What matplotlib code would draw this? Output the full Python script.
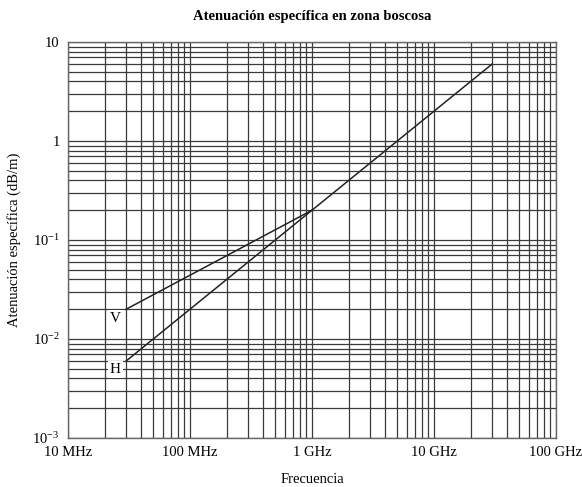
import matplotlib
matplotlib.use("Agg")
import matplotlib.pyplot as plt
from matplotlib.ticker import FixedLocator, LogLocator, NullFormatter

plt.rcParams['font.family'] = ['Liberation Serif', 'DejaVu Serif']
plt.rcParams['mathtext.fontset'] = 'custom'
plt.rcParams['mathtext.rm'] = 'Liberation Serif'
plt.rcParams['mathtext.it'] = 'Liberation Serif:italic'

# Data (frequency in Hz, attenuation in dB/m)
freq_v = [3e7, 1e9]
att_v = [0.02, 0.2]
freq_h = [3e7, 1e9]
att_h = [0.006, 0.2]
freq_common = [1e9, 3e10]
att_common = [0.2, 6.0]

x_ticks = [1e7, 1e8, 1e9, 1e10, 1e11]
x_labels = ["10 MHz", "100 MHz", "1 GHz", "10 GHz", "100 GHz"]
y_ticks = [1e-3, 1e-2, 1e-1, 1, 10]
y_labels = [r"$10^{-3}$", r"$10^{-2}$", r"$10^{-1}$", "1", "10"]

fig = plt.figure(figsize=(5.82, 4.87), dpi=100)
ax = fig.add_axes([68/582, 49/487, (556-68)/582, (438-42)/487])
ax.set_xscale('log')
ax.set_yscale('log')
ax.set_xlim(1e7, 1e11)
ax.set_ylim(1e-3, 10)

ax.xaxis.set_major_locator(FixedLocator(x_ticks))
ax.xaxis.set_minor_locator(LogLocator(base=10, subs=range(2, 10), numticks=50))
ax.yaxis.set_major_locator(FixedLocator(y_ticks))
ax.yaxis.set_minor_locator(LogLocator(base=10, subs=range(2, 10), numticks=50))
ax.set_xticklabels(x_labels)
ax.set_yticklabels(y_labels)
ax.xaxis.set_minor_formatter(NullFormatter())
ax.yaxis.set_minor_formatter(NullFormatter())
ax.tick_params(which='both', length=0, labelsize=10.5, pad=6)

ax.grid(True, which='both', color='#3a3a3a', linewidth=0.9)
ax.set_axisbelow(True)
for s in ax.spines.values():
    s.set_color('#666666')
    s.set_linewidth(1.0)

ax.plot(freq_v, att_v, color='#222222', lw=1.1, zorder=3)
ax.plot(freq_h, att_h, color='#222222', lw=1.1, zorder=3)
ax.plot(freq_common, att_common, color='#222222', lw=1.1, zorder=3)

ax.text(2.45e7, 0.016, "V", fontsize=11, ha='center', va='center',
        bbox=dict(facecolor='white', edgecolor='none', pad=1.5), zorder=4)
ax.text(2.45e7, 0.0049, "H", fontsize=11, ha='center', va='center',
        bbox=dict(facecolor='white', edgecolor='none', pad=1.5), zorder=4)

ax.set_title("Atenuación específica en zona boscosa", fontsize=10.5,
             fontweight='bold', pad=16)
ax.set_xlabel("Frecuencia", fontsize=10.5, labelpad=10)
ax.set_ylabel("Atenuación específica (dB/m)", fontsize=10.5, labelpad=8)

fig.savefig("out.png", dpi=100)
